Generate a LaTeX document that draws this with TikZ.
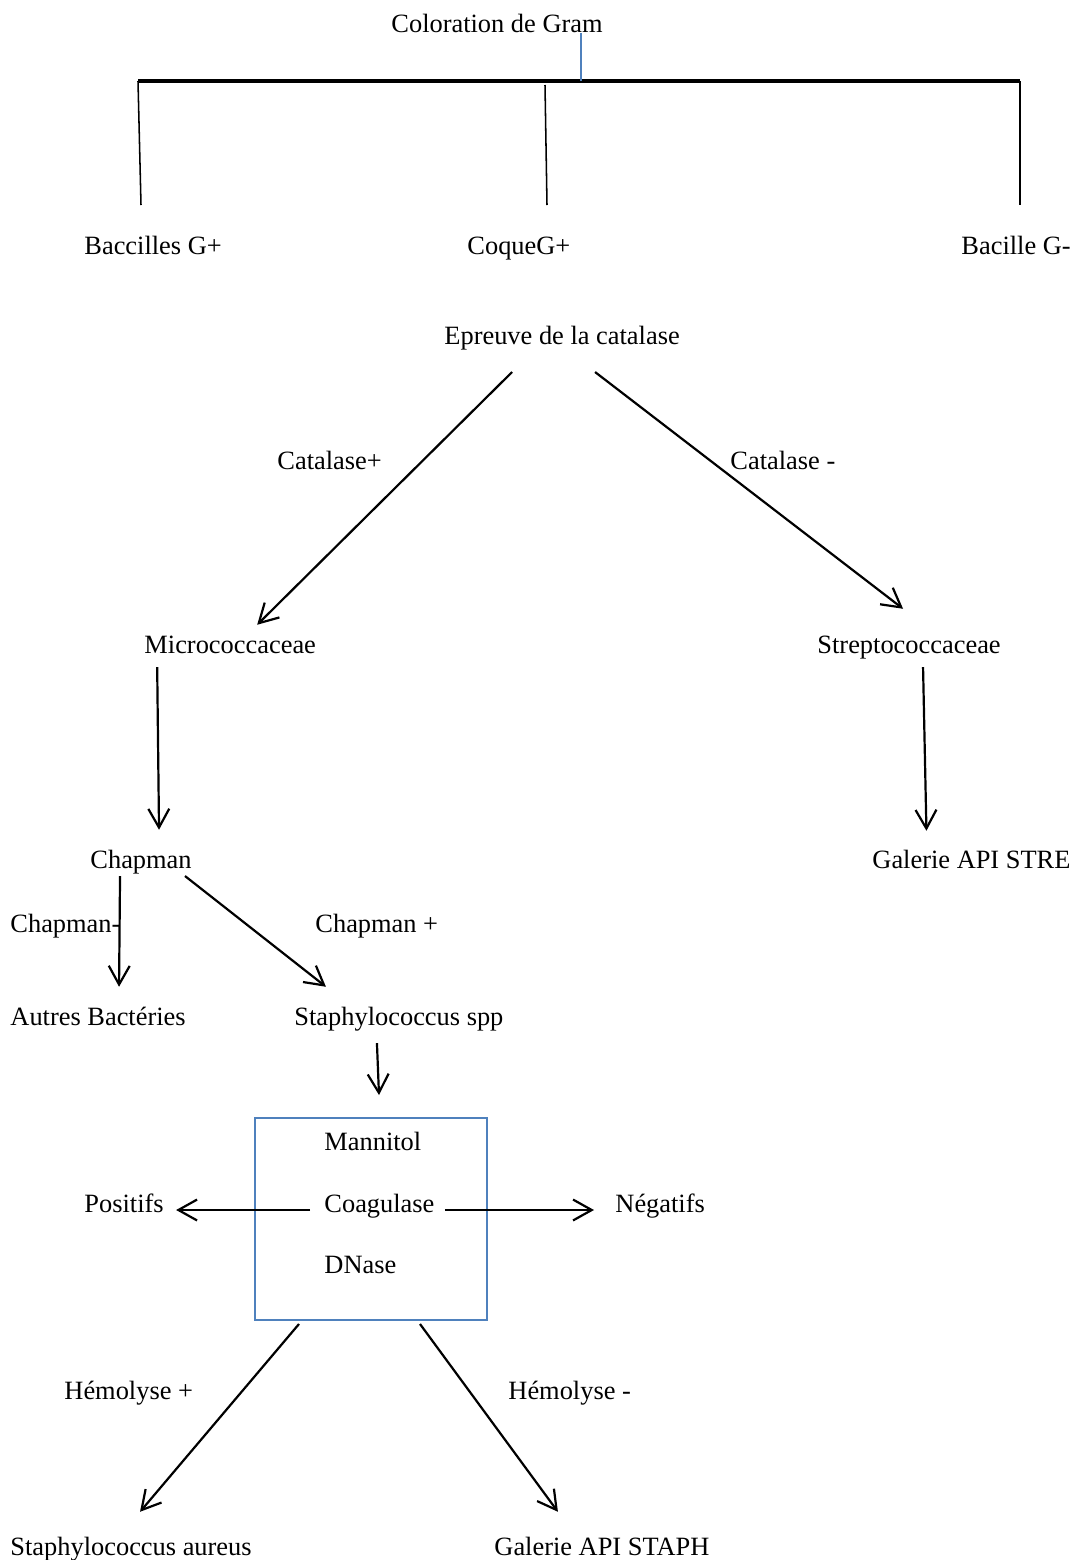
\documentclass[tikz,border=0pt]{standalone}
\usepackage{fontspec}
\setmainfont{Liberation Serif}
\usetikzlibrary{arrows.meta,positioning,calc}
\definecolor{wordblue}{RGB}{79,129,189}

\begin{document}
\begin{tikzpicture}[
  x=0.4545pt, y=-0.4545pt,
  font=\fontsize{12}{14}\selectfont,
  lbl/.style={inner sep=0pt, anchor=base west, text height=9pt, text depth=3pt},
  arr/.style={-{Straight Barb[length=8.5pt, width=9.5pt]}, line width=1pt},
  bar/.style={line width=1.4pt},
  leg/.style={line width=0.7pt},
  gramline/.style={draw=wordblue, line width=1.3pt},
  testbox/.style={draw=wordblue, line width=0.9pt, inner sep=0pt,
                  minimum width=105.4pt, minimum height=91.8pt}
]
  \useasboundingbox (0,0) rectangle (1075,1560);

  % Gram stain and the three groups
  \node[lbl] (gram) at (391,32) {Coloration de Gram};
  \node[lbl] (bacgp) at (84,254) {Baccilles G+};
  \node[lbl] (coque) at (467,254) {CoqueG+};
  \node[lbl] (bacgm) at (961,254) {Bacille G-};
  \coordinate (barL) at (138,81);
  \coordinate (barR) at (1020,81);
  \coordinate (midtop) at (545,85);
  \coordinate (legA) at (141,205);
  \coordinate (legB) at (547,205);
  \coordinate (legC) at (1020,205);
  \draw[bar] (barL) -- (barR);
  \draw[gramline] ($(gram.base west)+(190,1)$) -- ++(0,48);
  \draw[leg] (barL) -- (legA);
  \draw[leg] (midtop) -- (legB);
  \draw[leg] (barR) -- (legC);

  % catalase
  \node[lbl] (epreuve) at (444,344) {Epreuve de la catalase};
  \node[lbl] (catp) at (277,469) {Catalase+};
  \node[lbl] (catm) at (730,469) {Catalase -};
  \node[lbl] (micro) at (144,653) {Micrococcaceae};
  \node[lbl] (strepto) at (817,653) {Streptococcaceae};
  \draw[arr] ($(epreuve.south)+(-50,21)$) -- ($(micro.north)+(27,-8)$);
  \draw[arr] ($(epreuve.south)+(33,21)$) -- ($(strepto.north)+(-6,-24)$);

  % Chapman / API STRE
  \node[lbl] (chapman) at (90,868) {Chapman};
  \node[lbl] (apistre) at (872,868) {Galerie API STRE};
  \draw[arr] ($(micro.south)+(-73,7)$) -- ($(chapman.north)+(18,-18)$);
  \draw[arr] ($(strepto.south)+(14,7)$) -- ($(apistre.north)+(-45,-17)$);

  \node[lbl] (chapm) at (10,932) {Chapman-};
  \node[lbl] (chapp) at (315,932) {Chapman +};
  \node[lbl] (autres) at (10,1025) {Autres Bactéries};
  \node[lbl] (staphspp) at (294,1025) {Staphylococcus spp};
  \draw[arr] ($(chapman.south)+(-21,1)$) -- ($(autres.north)+(21,-18)$);
  \draw[arr] ($(chapman.south)+(44,1)$) -- ($(staphspp.north)+(-73,-18)$);

  % tests box
  \node[testbox] (tests) at (371,1219) {};
  \draw[arr] ($(staphspp.south)+(-22,11)$) -- ($(tests.north)+(8,-22)$);
  \node[lbl] (mannitol) at (324,1150) {Mannitol};
  \node[lbl] (coag) at (324,1212) {Coagulase};
  \node[lbl] (dnase) at (324,1273) {DNase};
  \node[lbl] (positifs) at (84,1212) {Positifs};
  \node[lbl] (negatifs) at (615,1212) {Négatifs};
  \draw[arr] ($(coag.base west)+(-14,-2)$) -- ($(positifs.base east)+(12,-2)$);
  \draw[arr] ($(coag.base east)+(10,-2)$) -- ($(negatifs.base west)+(-21,-2)$);

  % hemolysis
  \node[lbl] (hemp) at (64,1399) {Hémolyse +};
  \node[lbl] (hemm) at (508,1399) {Hémolyse -};
  \node[lbl] (aureus) at (10,1555) {Staphylococcus aureus};
  \node[lbl] (apistaph) at (494,1555) {Galerie API STAPH};
  \draw[arr] ($(tests.south)+(-72,3)$) -- ($(aureus.north)+(9,-23)$);
  \draw[arr] ($(tests.south)+(49,3)$) -- ($(apistaph.north)+(-44,-23)$);
\end{tikzpicture}
\end{document}
